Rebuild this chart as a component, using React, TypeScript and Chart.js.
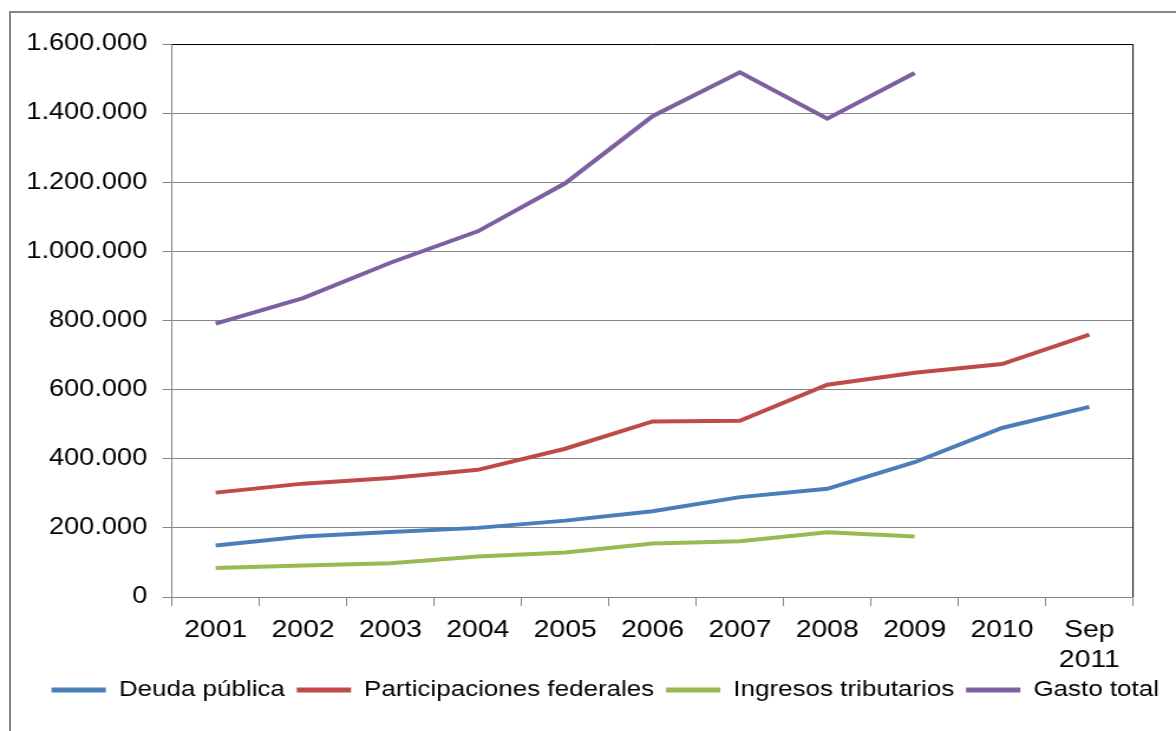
import React, { useEffect, useRef } from "react";
import { Chart, registerables } from "chart.js";

Chart.register(...registerables);

const categories: (string | string[])[] = [
  "2001", "2002", "2003", "2004", "2005", "2006", "2007", "2008", "2009", "2010", ["Sep", "2011"],
];

const deudaPublica = [149000, 175000, 188000, 200000, 221000, 248000, 289000, 313000, 390000, 489000, 550000];
const participacionesFederales = [302000, 328000, 344000, 368000, 429000, 508000, 510000, 614000, 649000, 674000, 759000];
const ingresosTributarios = [84000, 91000, 98000, 117000, 129000, 155000, 161000, 187000, 175000, null, null];
const gastoTotal = [791000, 865000, 967000, 1058000, 1197000, 1391000, 1518000, 1384000, 1516000, null, null];

const seriesNames = ["Deuda pública", "Participaciones federales", "Ingresos tributarios", "Gasto total"];
const seriesColors = ["#4A7EBB", "#BE4B48", "#98B954", "#7D60A0"];

const yMin = 0;
const yMax = 1600000;
const yStep = 200000;

const CANVAS_W = 996;
const CANVAS_H = 731;
const PAGE_W = 1176;

const FONT = "'Liberation Sans', Arial, sans-serif";
const GRID = "#868686";

const framePlugin = {
  id: "plotFrame",
  afterLayout(chart: any) {
    const lg = chart.legend;
    if (lg) {
      lg.left += 14.6;
      lg.right += 14.6;
    }
  },
  beforeDatasetsDraw(chart: any) {
    const { ctx, chartArea } = chart;
    ctx.save();
    ctx.strokeStyle = "#000000";
    ctx.lineWidth = 1;
    ctx.beginPath();
    ctx.moveTo(chartArea.left, Math.round(chartArea.top) + 0.5);
    ctx.lineTo(chartArea.right, Math.round(chartArea.top) + 0.5);
    ctx.lineTo(chartArea.right, chartArea.bottom);
    ctx.stroke();
    ctx.restore();
  },
};

export default function App() {
  const canvasRef = useRef<HTMLCanvasElement | null>(null);

  useEffect(() => {
    if (!canvasRef.current) return;
    const allSeries = [deudaPublica, participacionesFederales, ingresosTributarios, gastoTotal];
    const chart = new Chart(canvasRef.current, {
      type: "line",
      data: {
        labels: categories,
        datasets: allSeries.map((values, i) => ({
          label: seriesNames[i],
          data: values,
          borderColor: seriesColors[i],
          backgroundColor: seriesColors[i],
          borderWidth: 4,
          pointRadius: 0,
          pointHoverRadius: 0,
          tension: 0,
          fill: false,
          spanGaps: false,
        })),
      },
      options: {
        responsive: false,
        animation: false,
        devicePixelRatio: 1,
        layout: { padding: { top: 44, left: 0, right: 0, bottom: 20 } },
        plugins: {
          tooltip: { enabled: false },
          legend: {
            position: "bottom",
            labels: {
              boxWidth: 46,
              boxHeight: 5,
              padding: 10,
              color: "#000000",
              font: { family: FONT, size: 22 },
              generateLabels: (c: any) =>
                Chart.defaults.plugins.legend.labels.generateLabels(c).map((it: any) => ({
                  ...it,
                  lineWidth: 0,
                })),
            },
          },
        },
        scales: {
          x: {
            type: "category",
            offset: true,
            afterFit: (s: any) => {
              s.height = 72;
            },
            grid: {
              offset: true,
              drawOnChartArea: false,
              drawTicks: true,
              tickLength: 9,
              color: GRID,
            },
            border: { color: GRID, width: 1 },
            ticks: {
              color: "#000000",
              font: { family: FONT, size: 24, lineHeight: 1.25 },
              maxRotation: 0,
              minRotation: 0,
              autoSkip: false,
              padding: 9,
            },
          },
          y: {
            type: "linear",
            position: "left",
            min: yMin,
            max: yMax,
            afterFit: (s: any) => {
              s.width = 145.67;
            },
            grid: { color: GRID, tickLength: 8, lineWidth: 1 },
            border: { color: GRID, width: 1 },
            ticks: {
              stepSize: yStep,
              color: "#000000",
              font: { family: FONT, size: 23 },
              padding: 13,
              callback: (v: any) => String(v).replace(/\B(?=(\d{3})+(?!\d))/g, "."),
            },
          },
          ySpacer: {
            type: "linear",
            position: "right",
            display: true,
            afterFit: (s: any) => {
              s.width = 36.4;
            },
            grid: { display: false, drawTicks: false },
            border: { display: false },
            ticks: { display: false },
          },
        },
      },
      plugins: [framePlugin],
    } as any);
    return () => chart.destroy();
  }, []);

  return (
    <div style={{ position: "fixed", left: 0, top: 0, width: PAGE_W, height: CANVAS_H, background: "#fff" }}>
      <div
        style={{
          position: "absolute",
          left: 9,
          top: 11,
          width: PAGE_W - 9,
          height: CANVAS_H - 11,
          borderLeft: "2px solid #878787",
          borderTop: "2px solid #878787",
          boxSizing: "border-box",
        }}
      />
      <canvas
        ref={canvasRef}
        width={CANVAS_W}
        height={CANVAS_H}
        style={{ position: "absolute", left: 0, top: 0, width: PAGE_W + "px", height: CANVAS_H + "px", display: "block" }}
      />
    </div>
  );
}
